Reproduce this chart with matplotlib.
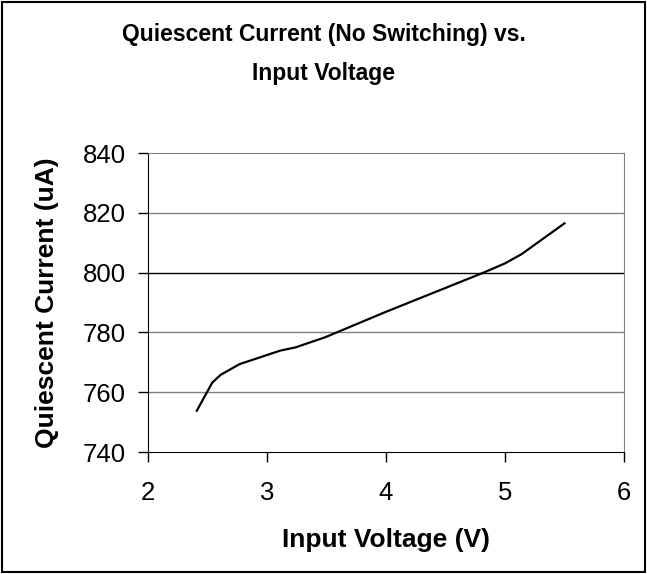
import matplotlib.pyplot as plt
from matplotlib.patches import Rectangle

plt.rcParams['font.family'] = ['Liberation Sans', 'DejaVu Sans']

# values
voltage = [2.41, 2.54, 2.61, 2.77, 3.11, 3.24, 3.49, 4.0, 4.82, 5.0, 5.14, 5.5]
current = [753.8, 763.2, 765.8, 769.4, 773.9, 775.0, 778.4, 786.9, 800.0, 803.1, 806.2, 816.5]
x_ticks = [2, 3, 4, 5, 6]
y_ticks = [740, 760, 780, 800, 820, 840]

fig = plt.figure(figsize=(6.47, 5.74), dpi=100)
ax = fig.add_axes([0.2287, 0.2125, 0.7358, 0.5209])

# outer chart border
fig.patches.append(Rectangle((0.003, 0.003), 0.994, 0.994, transform=fig.transFigure,
                             fill=False, edgecolor='black', linewidth=1.5))

for y in y_ticks[1:-1]:
    ax.axhline(y, color='black' if y == 800 else '#808080', linewidth=1, zorder=1)

ax.plot(voltage, current, color='black', linewidth=1.6, zorder=3)

ax.set_xlim(2, 6)
ax.set_ylim(740, 840)
ax.set_xticks(x_ticks)
ax.set_yticks(y_ticks)
ax.tick_params(direction='out', length=7, width=1, labelsize=18.5)
ax.tick_params(axis='x', pad=14)
ax.tick_params(axis='y', pad=9)

ax.spines['top'].set_color('#808080')
ax.spines['right'].set_color('#808080')
ax.spines['left'].set_color('black')
ax.spines['bottom'].set_color('black')

ax.set_xlabel('Input Voltage (V)', fontsize=19, fontweight='bold', va='center')
ax.set_ylabel('Quiescent Current (uA)', fontsize=19, fontweight='bold', va='center')
ax.xaxis.set_label_coords(0.5, -0.294)
ax.yaxis.set_label_coords(-0.212, 0.5)

fig.text(0.5, 0.96, 'Quiescent Current (No Switching) vs.\nInput Voltage',
         ha='center', va='top', fontsize=16.5, fontweight='bold', linespacing=1.9)

fig.savefig('out.png', dpi=100)
